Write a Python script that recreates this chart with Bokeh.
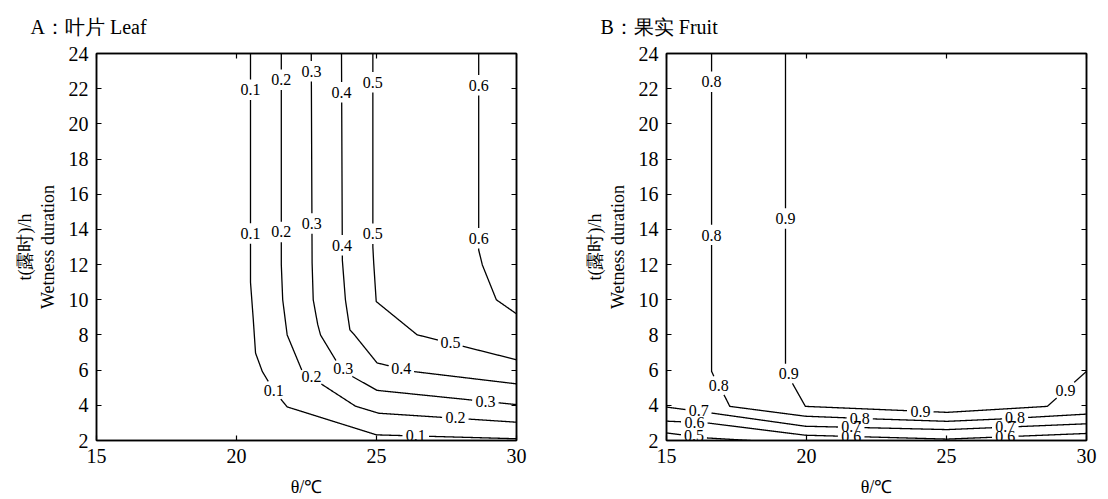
import math
from bokeh.plotting import figure
from bokeh.layouts import row
from bokeh.models import Range1d, LinearAxis, FixedTicker
from bokeh.embed import file_html
from bokeh.resources import INLINE
from bokeh.core.properties import value

# ---------------- data ----------------
X_TICKS = [15, 20, 25, 30]
Y_TICKS = [2, 4, 6, 8, 10, 12, 14, 16, 18, 20, 22, 24]

# A: leaf contours (temperature °C, wetness hours)
LEAF_LEVELS = ["0.1", "0.2", "0.3", "0.4", "0.5", "0.6"]
LEAF_TEMP = [
    [20.5, 20.5, 20.6, 20.68, 20.92, 21.33, 21.81, 25.0, 30.0],
    [21.6, 21.6, 21.65, 21.81, 22.35, 22.68, 23.06, 24.25, 25.08, 30.0],
    [22.67, 22.7, 22.74, 22.9, 23.0, 23.57, 23.81, 24.17, 25.02, 30.0],
    [23.75, 23.78, 23.89, 24.05, 24.21, 25.02, 26.27, 30.0],
    [24.87, 24.87, 24.9, 24.99, 26.45, 30.0],
    [28.65, 28.65, 28.78, 29.28, 30.0],
]
LEAF_HOURS = [
    [24, 11, 8.86, 6.97, 5.93, 4.84, 3.91, 2.32, 2.1],
    [24, 12, 10, 8.0, 5.93, 5.61, 5.18, 3.95, 3.55, 3.04],
    [24, 12.1, 10, 8.6, 8.0, 6.5, 6.07, 5.61, 4.85, 4.04],
    [24, 12.26, 10, 8.29, 8.01, 6.41, 5.93, 5.22],
    [24, 13, 12.1, 9.9, 8.01, 6.59],
    [24, 12.83, 11.98, 10.0, 9.2],
]
LEAF_LABEL_LEVEL = ["0.1", "0.1", "0.1", "0.1", "0.2", "0.2", "0.2", "0.2",
                    "0.3", "0.3", "0.3", "0.3", "0.4", "0.4", "0.4",
                    "0.5", "0.5", "0.5", "0.6", "0.6"]
LEAF_LABEL_TEMP = [20.5, 20.5, 21.33, 26.4, 21.6, 21.6, 22.68, 27.82,
                   22.68, 22.69, 23.81, 28.89, 23.75, 23.77, 25.88,
                   24.87, 24.87, 27.64, 28.65, 28.65]
LEAF_LABEL_HOUR = [21.94, 13.78, 4.84, 2.26, 22.5, 13.87, 5.61, 3.28,
                   23.0, 14.34, 6.07, 4.22, 21.8, 13.1, 6.08,
                   22.37, 13.74, 7.55, 22.19, 13.5]

# B: fruit contours
FRUIT_LEVELS = ["0.5", "0.6", "0.7", "0.8", "0.9"]
FRUIT_TEMP = [
    [15.0, 16.39, 18.0],
    [15.0, 16.45, 19.96, 25.02, 30.0],
    [15.0, 16.57, 19.96, 25.02, 30.0],
    [16.61, 16.61, 16.69, 17.11, 17.26, 19.96, 22.35, 25.02, 27.04, 30.0],
    [19.25, 19.25, 19.49, 19.96, 25.02, 28.6, 30.0],
]
FRUIT_HOURS = [
    [2.43, 2.15, 2.0],
    [3.1, 3.0, 2.3, 2.08, 2.4],
    [3.9, 3.57, 2.81, 2.62, 2.95],
    [24, 5.93, 5.65, 4.42, 3.94, 3.38, 3.23, 3.09, 3.23, 3.5],
    [24, 6.3, 5.27, 3.94, 3.6, 3.94, 5.93],
]
FRUIT_LABEL_LEVEL = ["0.8", "0.8", "0.8", "0.8", "0.8", "0.9", "0.9", "0.9", "0.9",
                     "0.7", "0.7", "0.7", "0.6", "0.6", "0.6", "0.5"]
FRUIT_LABEL_TEMP = [16.61, 16.61, 16.87, 21.9, 27.45, 19.25, 19.37, 24.07, 29.25,
                    16.15, 21.6, 27.1, 16.0, 21.6, 27.1, 15.98]
FRUIT_LABEL_HOUR = [22.4, 13.68, 5.12, 3.27, 3.28, 14.63, 5.79, 3.66, 4.86,
                    3.7, 2.77, 2.77, 3.04, 2.23, 2.21, 2.26]

# ---------------- layout constants ----------------
X0, X1, Y0, Y1 = 15, 30, 2, 24
FRAME_W, FRAME_H = 420, 388
SX = FRAME_W / (X1 - X0)
SY = FRAME_H / (Y1 - Y0)
SERIF = "Liberation Serif"


def gap_line(xs, ys, centers, hw=13.0, hh=10.0):
    px, py = [], []
    for i in range(len(xs) - 1):
        x0, y0, x1, y1 = xs[i], ys[i], xs[i + 1], ys[i + 1]
        L = math.hypot((x1 - x0) * SX, (y1 - y0) * SY)
        n = max(1, int(L / 0.5))
        for k in range(n):
            t = k / n
            px.append(x0 + (x1 - x0) * t)
            py.append(y0 + (y1 - y0) * t)
    px.append(xs[-1])
    py.append(ys[-1])
    ox, oy = [], []
    for x, y in zip(px, py):
        hidden = any(((x - cx) * SX / hw) ** 2 + ((y - cy) * SY / hh) ** 2 < 1
                     for cx, cy in centers)
        if hidden:
            if ox and not math.isnan(ox[-1]):
                ox.append(float("nan"))
                oy.append(float("nan"))
        else:
            ox.append(x)
            oy.append(y)
    return ox, oy


def make_panel(title, levels, temps, hours, lab_lev, lab_t, lab_h, bl, br):
    p = figure(width=bl + FRAME_W + br, height=499, title=title,
               x_range=Range1d(X0, X1), y_range=Range1d(Y0, Y1),
               output_backend="svg", toolbar_location=None,
               min_border_left=bl, min_border_right=br,
               min_border_top=53, min_border_bottom=58)
    p.title.align = "left"
    p.title.offset = -66
    p.title.vertical_align = "top"
    p.title.text_font = SERIF
    p.title.text_font_size = "20px"
    p.title.text_font_style = "normal"
    p.title.text_color = "black"
    p.title.standoff = 27

    p.add_layout(LinearAxis(), "above")
    p.add_layout(LinearAxis(), "right")
    p.xgrid.visible = False
    p.ygrid.visible = False
    p.outline_line_color = "black"
    p.outline_line_width = 1.5
    for ax in p.xaxis:
        ax.ticker = FixedTicker(ticks=X_TICKS)
    for ax in p.yaxis:
        ax.ticker = FixedTicker(ticks=Y_TICKS)
    for ax in p.axis:
        ax.axis_line_color = "black"
        ax.axis_line_width = 1.5
        ax.major_tick_in = 5
        ax.major_tick_out = 0
        ax.major_tick_line_color = "black"
        ax.major_tick_line_width = 1.2
        ax.minor_tick_line_color = None
        ax.major_label_text_font = SERIF
        ax.major_label_text_font_size = "20px"
        ax.major_label_text_color = "black"
    for ax in (p.above[0], p.right[0]):
        ax.major_label_text_color = None
        ax.major_label_text_font_size = "1px"
        ax.major_label_standoff = 0

    bottom = p.below[0]
    bottom.major_label_standoff = 8
    bottom.axis_label = "θ/℃"
    bottom.axis_label_text_font = SERIF
    bottom.axis_label_text_font_style = "normal"
    bottom.axis_label_text_font_size = "18px"
    bottom.axis_label_text_color = "black"
    bottom.axis_label_standoff = 11

    left = p.left[0]
    left.major_label_standoff = 8
    left.axis_label = "Wetness duration"
    left.axis_label_text_font = SERIF
    left.axis_label_text_font_style = "normal"
    left.axis_label_text_font_size = "18px"
    left.axis_label_text_color = "black"
    left.axis_label_standoff = 8

    outer = LinearAxis(ticker=FixedTicker(ticks=[]), axis_line_color=None,
                       major_tick_line_color=None, minor_tick_line_color=None,
                       major_label_text_color=None, major_label_standoff=0,
                       major_label_text_font_size="1px",
                       axis_label="t(露时)/h", axis_label_text_font=SERIF,
                       axis_label_text_font_style="normal",
                       axis_label_text_font_size="18px",
                       axis_label_text_color="black", axis_label_standoff=0)
    p.add_layout(outer, "left")

    for lev, xs, ys in zip(levels, temps, hours):
        centers = [(t, h) for L, t, h in zip(lab_lev, lab_t, lab_h) if L == lev]
        gx, gy = gap_line(xs, ys, centers)
        p.line(gx, gy, line_color="black", line_width=1.3)

    p.text(x=lab_t, y=lab_h, text=lab_lev, text_font=value(SERIF),
           text_font_size="16px", text_align="center", text_baseline="middle",
           text_color="black")
    return p


pA = make_panel("A：叶片 Leaf", LEAF_LEVELS, LEAF_TEMP, LEAF_HOURS,
                LEAF_LABEL_LEVEL, LEAF_LABEL_TEMP, LEAF_LABEL_HOUR, 96, 38)
pB = make_panel("B：果实 Fruit", FRUIT_LEVELS, FRUIT_TEMP, FRUIT_HOURS,
                FRUIT_LABEL_LEVEL, FRUIT_LABEL_TEMP, FRUIT_LABEL_HOUR, 112, 22)

layout = row(pA, pB)
open("out.html", "w").write(file_html(layout, INLINE))
